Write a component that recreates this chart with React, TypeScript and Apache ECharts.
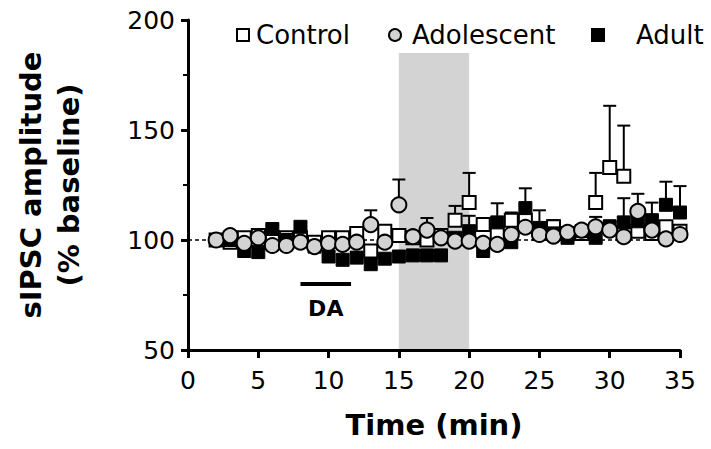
import React, { useEffect, useRef } from "react";
import * as echarts from "echarts";

// Time points (min)
const times = [2, 3, 4, 5, 6, 7, 8, 9, 10, 11, 12, 13, 14, 15, 16, 17, 18, 19, 20, 21, 22, 23, 24, 25, 26, 27, 28, 29, 30, 31, 32, 33, 34, 35];

// Control (open squares)
const controlMean = [100, 99, 101, 102, 101, 101, 101, 99, 101, 101, 103, 95, 104, 102, 101, 100, 102, 109, 117, 107, 103, 109, 109, 103, 106, 103, 103, 117, 133, 129, 104, 103, 106, 104];
const controlSem = [2, 2, 2, 2, 2, 2, 2, 2, 2, 2, 2, 2, 2, 2, 2, 2, 2, 6.5, 13.5, 3, 2, 3.5, 2, 2, 3, 2, 2, 13.5, 28, 23, 2, 2, 2, 2];

// Adolescent (gray circles)
const adolMean = [100, 102, 98.5, 101, 97.5, 97.5, 99, 97, 98.5, 98, 99, 107, 99, 116, 101.5, 104.5, 101, 99.5, 99.5, 98.5, 98, 102.5, 105.8, 102.5, 101.8, 103.5, 104.5, 106, 104.5, 101.5, 113, 104.5, 100.5, 102.5];
const adolSem = [2, 2, 2, 2, 2, 2, 2, 2, 2, 2, 2, 6.5, 2, 11.5, 2, 5.5, 2, 2, 2, 2, 2, 2, 2, 2, 2, 2, 2, 4.5, 4.5, 2, 8, 2, 2, 2];

// Adult (black squares)
const adultMean = [100, 100, 95, 94.5, 105, 100, 106, 97, 92.5, 91, 92, 89, 91.5, 92.5, 93, 93, 93, 101, 104, 95, 108, 99, 114.5, 105.5, 103, 101, 104, 101, 106, 108, 108.5, 109, 116, 112.5];
const adultSem = [2, 2, 2, 2, 2, 2, 2, 2, 2, 2, 2, 2, 2, 2, 2, 2, 2, 2, 7, 2, 8.7, 2, 9, 8, 2, 2, 2, 2, 2, 11, 2, 8, 10.5, 12];

// Annotations
const baselineLine = [[0, 100], [35, 100]];
const washWindow = [15, 20];
const washTop = 185;
const daBar = [[8, 80], [11.6, 80]];
const daLabelPos = [9.8, 69];

const xTicks = { min: 0, max: 35, interval: 5 };
const yTicks = { min: 50, max: 200, interval: 50 };

const FONT = "DejaVu Sans";

function errSeries(name: string, means: number[], sems: number[], z: number) {
  return {
    type: "custom",
    name: name + " SEM",
    z,
    silent: true,
    data: times.map((t, i) => [t, means[i], means[i] + sems[i]]),
    encode: { x: 0, y: [1, 2] },
    renderItem: (params: any, api: any) => {
      const p = api.coord([api.value(0), api.value(1)]);
      const top = api.coord([api.value(0), api.value(2)]);
      const hw = 6.5;
      return {
        type: "group",
        children: [
          { type: "line", shape: { x1: p[0], y1: p[1], x2: top[0], y2: top[1] }, style: { stroke: "#000", lineWidth: 2 } },
          { type: "line", shape: { x1: top[0] - hw, y1: top[1], x2: top[0] + hw, y2: top[1] }, style: { stroke: "#000", lineWidth: 2 } },
        ],
      };
    },
  };
}

function legendFor(name: string, left: number, textGap: number) {
  return {
    data: [name],
    left,
    top: 17,
    itemWidth: 12,
    itemHeight: 12,
    selectedMode: false,
    textStyle: { fontFamily: FONT, fontSize: 26, color: "#000", padding: [0, 0, 0, textGap] },
  };
}

export default function App() {
  const ref = useRef<HTMLDivElement>(null);
  useEffect(() => {
    if (!ref.current) return;
    const chart = echarts.init(ref.current, null, { renderer: "svg" });
    chart.setOption({
      animation: false,
      backgroundColor: "#fff",
      textStyle: { fontFamily: FONT, color: "#000" },
      grid: { left: 188, right: 31, top: 20, bottom: 99, containLabel: false },
      legend: [legendFor("Control", 231, 2), legendFor("Adolescent", 383, 6), legendFor("Adult", 586, 27)],
      xAxis: {
        type: "value",
        min: xTicks.min,
        max: xTicks.max,
        interval: xTicks.interval,
        name: "Time (min)",
        nameLocation: "middle",
        nameGap: 60,
        nameTextStyle: { fontFamily: FONT, fontSize: 29, fontWeight: "bold", color: "#000" },
        axisLine: { show: true, onZero: false, lineStyle: { color: "#000", width: 3 } },
        axisTick: { show: true, length: 8, lineStyle: { color: "#000", width: 3 } },
        axisLabel: { fontFamily: FONT, fontSize: 25, color: "#000", margin: 18 },
        splitLine: { show: false },
      },
      yAxis: {
        type: "value",
        min: yTicks.min,
        max: yTicks.max,
        interval: yTicks.interval,
        name: "sIPSC amplitude\n(% baseline)",
        nameLocation: "middle",
        nameGap: 100,
        nameTextStyle: { fontFamily: FONT, fontSize: 29, fontWeight: "bold", color: "#000", lineHeight: 38, align: "center" },
        axisLine: { show: true, onZero: false, lineStyle: { color: "#000", width: 3 } },
        axisTick: { show: true, length: 7, lineStyle: { color: "#000", width: 3 } },
        minorTick: { show: true, splitNumber: 2, length: 5, lineStyle: { color: "#000", width: 2 } },
        axisLabel: { fontFamily: FONT, fontSize: 25, color: "#000", margin: 13 },
        splitLine: { show: false },
      },
      series: [
        {
          type: "line",
          name: "baseline",
          data: baselineLine,
          symbol: "none",
          silent: true,
          z: 1,
          lineStyle: { color: "#000", width: 1.5, type: [4, 3] },
          markArea: {
            silent: true,
            itemStyle: { color: "#d3d3d3", opacity: 1 },
            data: [[{ xAxis: washWindow[0], yAxis: yTicks.min }, { xAxis: washWindow[1], yAxis: washTop }]],
            z: 0,
          },
        },
        {
          type: "line",
          name: "DA bar",
          data: daBar,
          symbol: "none",
          silent: true,
          z: 1,
          lineStyle: { color: "#000", width: 4 },
        },
        {
          type: "scatter",
          name: "DA label",
          data: [daLabelPos],
          symbolSize: 1,
          silent: true,
          itemStyle: { color: "transparent", opacity: 1 },
          label: {
            show: true,
            position: "inside",
            formatter: "DA",
            fontFamily: FONT,
            fontSize: 22,
            fontWeight: "bold",
            color: "#000",
            opacity: 1,
          },
        },
        errSeries("Control", controlMean, controlSem, 2),
        {
          type: "scatter",
          name: "Control",
          z: 3,
          symbol: "rect",
          symbolSize: 13,
          data: times.map((t, i) => [t, controlMean[i]]),
          itemStyle: { color: "#fff", borderColor: "#000", borderWidth: 2, opacity: 1 },
        },
        errSeries("Adult", adultMean, adultSem, 4),
        {
          type: "scatter",
          name: "Adult",
          z: 5,
          symbol: "rect",
          symbolSize: 13,
          data: times.map((t, i) => [t, adultMean[i]]),
          itemStyle: { color: "#000", borderColor: "#000", borderWidth: 1, opacity: 1 },
        },
        errSeries("Adolescent", adolMean, adolSem, 6),
        {
          type: "scatter",
          name: "Adolescent",
          z: 7,
          symbol: "circle",
          symbolSize: 15,
          data: times.map((t, i) => [t, adolMean[i]]),
          itemStyle: { color: "#d3d3d3", borderColor: "#000", borderWidth: 2, opacity: 1 },
        },
      ],
    });
    return () => chart.dispose();
  }, []);
  return <div ref={ref} style={{ position: "fixed", left: 0, top: 0, width: 711, height: 449 }} />;
}
